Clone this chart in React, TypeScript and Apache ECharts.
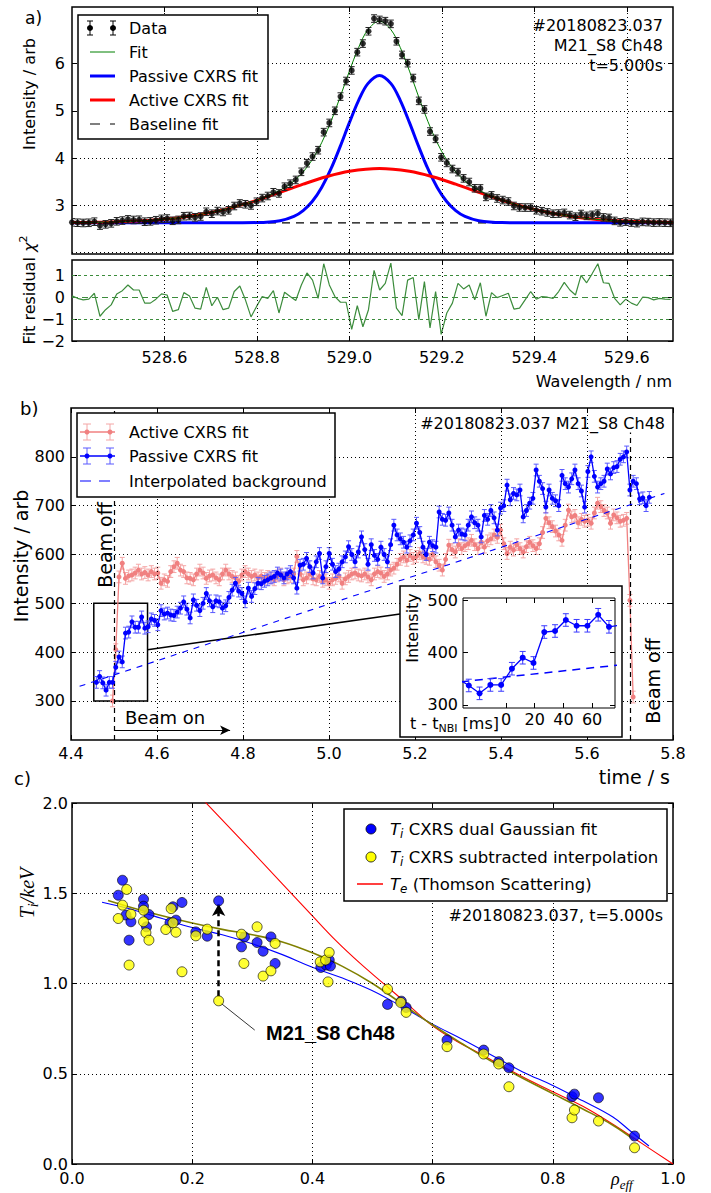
import React, { useEffect, useRef } from 'react';
import * as echarts from 'echarts';

const FONT = 'DejaVu Sans';
const SERIF = 'Liberation Serif';

// ================= Panel a : spectrum =================
const WL_START = 528.4;
const WL_STEP = 0.0121;
const SPECTRUM = [
  2.640, 2.632, 2.627, 2.631, 2.654, 2.572, 2.598, 2.619, 2.662, 2.678,
  2.703, 2.690, 2.695, 2.654, 2.661, 2.685, 2.714, 2.721, 2.673, 2.692,
  2.770, 2.774, 2.747, 2.764, 2.864, 2.823, 2.879, 2.860, 2.895, 2.986,
  3.040, 3.023, 2.998, 3.076, 3.154, 3.198, 3.277, 3.252, 3.395, 3.458,
  3.538, 3.710, 3.893, 4.033, 4.168, 4.550, 4.745, 5.002, 5.303, 5.633,
  5.857, 6.244, 6.425, 6.686, 6.955, 6.926, 6.900, 6.843, 6.474, 6.185,
  6.011, 5.696, 5.212, 5.031, 4.563, 4.408, 4.018, 3.899, 3.769, 3.704,
  3.571, 3.494, 3.361, 3.358, 3.179, 3.211, 3.146, 3.112, 3.081, 2.987,
  2.956, 2.953, 2.953, 2.896, 2.876, 2.850, 2.822, 2.826, 2.840, 2.794,
  2.760, 2.817, 2.777, 2.798, 2.823, 2.744, 2.733, 2.671, 2.641, 2.656,
  2.636, 2.624, 2.650, 2.645, 2.634, 2.638, 2.633, 2.630,
];
const SPECTRUM_ERR = 0.08;
const RESIDUAL = [
  0.06, -0.05, -0.12, -0.09, 0.18, -0.87, -0.57, -0.35, 0.15, 0.30,
  0.56, 0.33, 0.33, -0.27, -0.27, -0.09, 0.15, 0.10, -0.65, -0.57,
  0.21, 0.06, -0.50, -0.54, 0.45, -0.39, 0.00, -0.57, -0.50, 0.26,
  0.51, -0.12, -0.90, -0.42, 0.03, -0.05, 0.30, -0.72, 0.23, 0.03,
  -0.15, 0.56, 1.11, 0.78, -0.05, 1.53, 0.56, 0.03, -0.23, -0.23,
  -1.47, -0.39, -1.35, -0.57, 1.23, 0.33, 0.63, 1.56, -0.50, -0.84,
  0.78, 0.90, -1.02, 0.71, -1.40, 0.26, -1.70, -0.72, -0.27, 0.63,
  0.38, 0.56, -0.12, 0.66, -0.87, 0.21, -0.02, 0.08, 0.18, -0.54,
  -0.50, -0.12, 0.26, -0.09, 0.03, 0.00, -0.05, 0.26, 0.68, 0.33,
  0.10, 1.00, 0.66, 1.08, 1.53, 0.66, 0.63, -0.05, -0.35, -0.09,
  -0.27, -0.38, 0.00, -0.02, -0.12, -0.05, -0.09, -0.10,
];
const FIT_CURVE = [
  [528.40, 2.635], [528.45, 2.640], [528.50, 2.651], [528.55, 2.672], [528.60, 2.707],
  [528.65, 2.764], [528.70, 2.848], [528.75, 2.963], [528.80, 3.113], [528.85, 3.321],
  [528.88, 3.517], [528.90, 3.708], [528.92, 3.971], [528.94, 4.325], [528.96, 4.772],
  [528.98, 5.294], [529.00, 5.842], [529.02, 6.344], [529.04, 6.718], [529.065, 6.900],
  [529.09, 6.718], [529.11, 6.344], [529.13, 5.842], [529.15, 5.294], [529.17, 4.772],
  [529.19, 4.325], [529.21, 3.971], [529.23, 3.708], [529.25, 3.517], [529.28, 3.321],
  [529.33, 3.113], [529.38, 2.963], [529.43, 2.848], [529.48, 2.764], [529.53, 2.707],
  [529.58, 2.672], [529.63, 2.651], [529.70, 2.637],
];
const PASSIVE_CURVE = [
  [528.40, 2.630], [528.60, 2.630], [528.75, 2.631], [528.80, 2.635], [528.85, 2.676],
  [528.88, 2.767], [528.90, 2.890], [528.92, 3.087], [528.94, 3.379], [528.96, 3.770],
  [528.98, 4.243], [529.00, 4.751], [529.02, 5.223], [529.04, 5.577], [529.065, 5.750],
  [529.09, 5.577], [529.11, 5.223], [529.13, 4.751], [529.15, 4.243], [529.17, 3.770],
  [529.19, 3.379], [529.21, 3.087], [529.23, 2.890], [529.25, 2.767], [529.28, 2.676],
  [529.33, 2.635], [529.38, 2.631], [529.50, 2.630], [529.70, 2.630],
];
const ACTIVE_CURVE = [
  [528.40, 2.635], [528.45, 2.640], [528.50, 2.651], [528.55, 2.672], [528.60, 2.707],
  [528.65, 2.764], [528.70, 2.848], [528.75, 2.963], [528.80, 3.108], [528.85, 3.275],
  [528.90, 3.448], [528.95, 3.605], [529.00, 3.721], [529.065, 3.780], [529.13, 3.721],
  [529.18, 3.605], [529.23, 3.448], [529.28, 3.275], [529.33, 3.108], [529.38, 2.963],
  [529.43, 2.848], [529.48, 2.764], [529.53, 2.707], [529.58, 2.672], [529.63, 2.651],
  [529.70, 2.637],
];
const BASELINE = [[528.4, 2.63], [529.7, 2.63]];
const WL_TICKS = [528.6, 528.8, 529.0, 529.2, 529.4, 529.6];
const SPEC_Y_TICKS = [3, 4, 5, 6];
const SPEC_Y_GRID = [2, 3, 4, 5, 6];
const RES_Y_TICKS = [-2, -1, 0, 1];
const RES_Y_GRID = [-1, 0, 1];

// ================= Panel b : time traces =================
const T_START = 4.459;
const T_STEP = 0.00752;
const PASSIVE_TS = [
  338, 350, 337, 322, 338, 338, 369, 390, 380, 439,
  441, 462, 451, 451, 472, 449, 452, 468, 465, 456,
  485, 478, 480, 476, 475, 482, 490, 503, 488, 470,
  507, 496, 485, 500, 520, 505, 493, 505, 503, 490,
  495, 512, 527, 541, 525, 520, 503, 531, 514, 530,
  541, 540, 545, 548, 552, 555, 562, 558, 552, 560,
  565, 552, 531, 578, 580, 592, 575, 562, 585, 602,
  552, 575, 602, 580, 565, 570, 585, 595, 616, 600,
  585, 605, 636, 610, 580, 620, 598, 590, 615, 600,
  585, 620, 660, 640, 632, 625, 615, 628, 640, 664,
  645, 615, 600, 625, 618, 615, 687, 672, 670, 685,
  660, 636, 650, 642, 640, 660, 677, 665, 660, 636,
  680, 672, 690, 675, 650, 695, 700, 742, 712, 725,
  722, 732, 677, 690, 705, 715, 773, 750, 735, 697,
  732, 715, 710, 700, 762, 745, 738, 755, 773, 745,
  730, 697, 770, 800, 760, 738, 745, 750, 775, 765,
  778, 780, 795, 800, 810, 732, 750, 745, 714, 716,
  700, 717,
];
const ACTIVE_START_INDEX = 5;
const ACTIVE_TS = [
  300, 405, 554, 582, 551, 556, 558, 562, 568, 560,
  563, 558, 565, 560, 562, 541, 548, 545, 565, 575,
  582, 568, 565, 552, 551, 548, 560, 568, 562, 551,
  556, 558, 552, 548, 560, 568, 560, 555, 552, 545,
  558, 565, 560, 555, 558, 552, 556, 551, 555, 552,
  548, 556, 560, 548, 552, 555, 560, 596, 560, 548,
  552, 560, 550, 548, 555, 545, 548, 541, 548, 551,
  556, 541, 550, 555, 560, 562, 558, 556, 560, 554,
  548, 560, 565, 562, 555, 560, 568, 572, 580, 590,
  595, 588, 598, 592, 596, 602, 595, 592, 590, 600,
  585, 578, 568, 590, 619, 610, 605, 620, 612, 618,
  622, 629, 620, 612, 625, 615, 628, 632, 640, 635,
  650, 622, 602, 615, 609, 620, 612, 605, 616, 625,
  618, 612, 622, 645, 674, 665, 657, 648, 640, 629,
  660, 691, 677, 680, 665, 672, 668, 670, 664, 685,
  705, 698, 690, 685, 664, 681, 675, 668, 670, 674,
  506, 308,
];
const TS_ERR = 12;
const BG_LINE = [[4.42, 330], [5.78, 725]];
const BEAM_ON_T = 4.5;
const BEAM_OFF_T = 5.7;
const BEAM_OFF_TOP = 850;
const ZOOM_BOX = [[4.453, 300], [4.578, 500]];
const TIME_TICKS = [4.4, 4.6, 4.8, 5.0, 5.2, 5.4, 5.6, 5.8];
const TIME_GRID = [4.6, 4.8, 5.0, 5.2, 5.4, 5.6];
const INT_TICKS = [300, 400, 500, 600, 700, 800];
const INSET_X_TICKS = [0, 20, 40, 60];
const INSET_X_GRID = [-20, -10, 10, 20, 30, 40, 50, 60, 70];
const INSET_Y_TICKS = [300, 400, 500];

// ================= Panel c : profiles =================
const BLUE_RHO = [0.084, 0.077, 0.090, 0.098, 0.095, 0.119, 0.119, 0.128, 0.124, 0.163, 0.168, 0.173, 0.183, 0.206, 0.225, 0.244, 0.282, 0.287, 0.308, 0.318, 0.331, 0.338, 0.414, 0.423, 0.428, 0.430, 0.525, 0.548, 0.556, 0.624, 0.685, 0.710, 0.727, 0.832, 0.836, 0.876, 0.936];
const BLUE_TI = [1.572, 1.489, 1.379, 1.342, 1.240, 1.467, 1.428, 1.382, 1.314, 1.336, 1.425, 1.351, 1.449, 1.286, 1.262, 1.458, 1.203, 1.258, 1.227, 1.179, 1.258, 1.111, 1.089, 1.102, 1.130, 1.097, 0.884, 0.902, 0.867, 0.687, 0.631, 0.567, 0.533, 0.373, 0.387, 0.367, 0.155];
const YEL_RHO = [0.091, 0.084, 0.077, 0.098, 0.095, 0.119, 0.119, 0.123, 0.128, 0.156, 0.165, 0.168, 0.173, 0.183, 0.206, 0.225, 0.244, 0.282, 0.286, 0.308, 0.318, 0.331, 0.338, 0.413, 0.422, 0.428, 0.426, 0.525, 0.547, 0.556, 0.624, 0.685, 0.710, 0.727, 0.832, 0.836, 0.876, 0.936];
const YEL_TI = [1.521, 1.434, 1.360, 1.384, 1.102, 1.406, 1.342, 1.281, 1.240, 1.299, 1.415, 1.336, 1.284, 1.065, 1.264, 1.301, 0.904, 1.273, 1.111, 1.314, 1.041, 1.070, 1.222, 1.120, 1.130, 1.172, 1.009, 0.969, 0.895, 0.840, 0.650, 0.609, 0.554, 0.428, 0.256, 0.299, 0.238, 0.090];
const BLUE_FIT = [[0.05, 1.45], [0.1, 1.41], [0.15, 1.36], [0.2, 1.31], [0.25, 1.27], [0.3, 1.22], [0.35, 1.16], [0.4, 1.09], [0.45, 1.03], [0.5, 0.96], [0.55, 0.87], [0.6, 0.775], [0.65, 0.69], [0.7, 0.60], [0.75, 0.51], [0.8, 0.435], [0.85, 0.35], [0.9, 0.26], [0.93, 0.18], [0.96, 0.10]];
const OLIVE_FIT = [[0.06, 1.46], [0.1, 1.42], [0.15, 1.375], [0.2, 1.335], [0.25, 1.30], [0.3, 1.27], [0.35, 1.23], [0.4, 1.17], [0.45, 1.095], [0.5, 1.00], [0.55, 0.885], [0.6, 0.77], [0.65, 0.665], [0.7, 0.565], [0.75, 0.475], [0.8, 0.39], [0.85, 0.305], [0.9, 0.215], [0.935, 0.135]];
const TE_LINE = [[0.21, 2.046], [0.3, 1.73], [0.4, 1.375], [0.44, 1.235], [0.48, 1.11], [0.52, 0.995], [0.56, 0.88], [0.6, 0.765], [0.64, 0.68], [0.68, 0.61], [0.72, 0.535], [0.76, 0.465], [0.8, 0.40], [0.85, 0.32], [0.9, 0.22], [0.95, 0.11], [1.0, 0.0]];
const HIGHLIGHT_RHO = 0.244;
const HIGHLIGHT_FROM = 0.93;
const HIGHLIGHT_TO = 1.44;
const RHO_TICKS = [0, 0.2, 0.4, 0.6, 0.8, 1.0];
const RHO_GRID = [0.2, 0.4, 0.6, 0.8];
const TI_TICKS = [0, 0.5, 1.0, 1.5, 2.0];
const TI_GRID = [0.5, 1.0, 1.5];

// ================= helpers =================
const DOTTED = { color: '#000', width: 1, type: [1, 3] };
const f1 = (v: number) => v.toFixed(1);
const fInt = (v: number) => String(Math.round(v));
const fMinus = (v: number) => (v < 0 ? '\u2212' + Math.abs(Math.round(v)) : String(Math.round(v)));

function axis(kind: 'x' | 'y', gridIndex: number, min: number, max: number, ticks: number[], showLabel: boolean, fmt: any, opts: any = {}) {
  const position = kind === 'x' ? (opts.mirror ? 'top' : 'bottom') : (opts.mirror ? 'right' : 'left');
  return {
    type: 'value', gridIndex, min, max, position, z: opts.z ?? 0,
    axisLine: { show: false, onZero: false },
    splitLine: { show: false },
    axisTick: { show: true, inside: true, length: 5, customValues: ticks, lineStyle: { color: '#000', width: 1 } },
    axisLabel: {
      show: showLabel, customValues: ticks, formatter: fmt, color: '#000',
      fontSize: opts.size ?? 16, fontFamily: FONT, margin: opts.margin ?? 6,
      showMinLabel: true, showMaxLabel: true, hideOverlap: false,
    },
  };
}

function markLines(xi: number, yi: number, data: any[], lineStyle: any, z: number, extra: any = {}) {
  return {
    type: 'line', xAxisIndex: xi, yAxisIndex: yi, data: [], z, silent: true,
    markLine: {
      silent: true, symbol: ['none', 'none'], label: { show: false }, lineStyle, data, animation: false,
      emphasis: { disabled: true }, ...extra,
    },
  };
}

function errorBars(xi: number, yi: number, pts: number[][], err: number, color: string, cap: number, z: number) {
  return {
    type: 'custom', xAxisIndex: xi, yAxisIndex: yi, z, silent: true, clip: true,
    data: pts.map(([x, v]) => [x, v - err, v + err]),
    encode: { x: 0, y: [1, 2] },
    renderItem: (_p: any, api: any) => {
      const x = api.value(0);
      const lo = api.coord([x, api.value(1)]);
      const hi = api.coord([x, api.value(2)]);
      const st = { stroke: color, lineWidth: 1 };
      return {
        type: 'group',
        children: [
          { type: 'line', shape: { x1: lo[0], y1: lo[1], x2: hi[0], y2: hi[1] }, style: st },
          { type: 'line', shape: { x1: lo[0] - cap, y1: lo[1], x2: lo[0] + cap, y2: lo[1] }, style: st },
          { type: 'line', shape: { x1: hi[0] - cap, y1: hi[1], x2: hi[0] + cap, y2: hi[1] }, style: st },
        ],
      };
    },
  };
}

function mathRich(size: number, family = FONT) {
  const s = Math.round(size * 0.7);
  return {
    n: { fontSize: size, fontFamily: family, lineHeight: size + 6, fill: '#000' },
    it: { fontSize: size, fontFamily: family, fontStyle: 'italic', lineHeight: size + 6, fill: '#000' },
    sub: { fontSize: s, fontFamily: family, fontStyle: 'italic', lineHeight: s + 1, verticalAlign: 'bottom', fill: '#000' },
    subn: { fontSize: s, fontFamily: family, lineHeight: s + 1, verticalAlign: 'bottom', fill: '#000' },
    sup: { fontSize: s, fontFamily: family, lineHeight: s + 1, verticalAlign: 'top', fill: '#000' },
  };
}

function buildOption() {
  const G: any[] = [];
  const T = (x: number, y: number, text: string, o: any = {}) =>
    G.push({
      type: 'text', x, y, z: o.z ?? 100, rotation: o.rot ? Math.PI / 2 : 0, silent: true,
      style: {
        text, fill: '#000', fontSize: o.size ?? 16, fontFamily: o.font ?? FONT,
        fontWeight: o.weight ?? 'normal', fontStyle: o.style ?? 'normal',
        align: o.align ?? 'left', verticalAlign: 'middle', rich: o.rich,
      },
    });
  const L = (x1: number, y1: number, x2: number, y2: number, stroke: string, lw = 1, dash: any = null, z = 101) =>
    G.push({ type: 'line', z, silent: true, shape: { x1, y1, x2, y2 }, style: { stroke, lineWidth: lw, lineDash: dash } });
  const C = (cx: number, cy: number, r: number, fill: string, stroke: string | null = null, lw = 0.8, z = 102) =>
    G.push({ type: 'circle', z, silent: true, shape: { cx, cy, r }, style: { fill, stroke, lineWidth: lw } });
  const R = (x: number, y: number, w: number, h: number, z = 99) =>
    G.push({ type: 'rect', z, silent: true, shape: { x, y, width: w, height: h }, style: { fill: '#fff', stroke: '#000', lineWidth: 1.5 } });

  // ---- panel a texts & legend ----
  T(25, 18, 'a)', { size: 17 });
  T(29, 94, 'Intensity / arb', { rot: true, align: 'center', size: 16 });
  T(29, 290, '{n|Fit residual }{it|\u03c7}{sup|2}', { rot: true, align: 'center', rich: mathRich(16) });
  T(672, 381, 'Wavelength / nm', { align: 'right', size: 16 });
  T(663, 25, '#20180823.037', { align: 'right' });
  T(663, 45, 'M21_S8 Ch48', { align: 'right' });
  T(663, 65, 't=5.000s', { align: 'right' });
  R(78, 15, 190, 124);
  [90, 113].forEach((x) => {
    L(x, 21, x, 35, '#000');
    L(x - 3, 21, x + 3, 21, '#000');
    L(x - 3, 35, x + 3, 35, '#000');
    C(x, 28, 3, '#000');
  });
  T(129, 28, 'Data');
  L(90, 52, 115, 52, '#008000', 1);
  T(129, 52, 'Fit');
  L(90, 76, 115, 76, '#0000ff', 3);
  T(129, 76, 'Passive CXRS fit');
  L(90, 100, 115, 100, '#ff0000', 3);
  T(129, 100, 'Active CXRS fit');
  L(90, 124, 115, 124, '#000', 1.2, [10, 10]);
  T(129, 124, 'Baseline fit');

  // ---- panel b texts & legend ----
  T(20, 408, 'b)', { size: 18 });
  T(21, 556, 'Intensity / arb', { rot: true, align: 'center', size: 19 });
  T(670, 777, 'time / s', { align: 'right', size: 19 });
  T(665, 423, '#20180823.037 M21_S8 Ch48', { align: 'right' });
  T(105, 545, 'Beam off', { rot: true, align: 'center', size: 19 });
  T(653, 681, 'Beam off', { rot: true, align: 'center', size: 19 });
  T(125, 717, 'Beam on', { size: 18 });
  R(77, 413, 258, 84);
  ([[432, '#f08080', '#f4a6a6'], [456, '#0000ff', '#5a5aff']] as any[]).forEach(([y, c, ec]) => {
    L(80, y, 115, y, c, 1.3);
    [87, 110].forEach((x) => {
      L(x, y - 8, x, y + 8, ec);
      L(x - 4, y - 8, x + 4, y - 8, ec);
      L(x - 4, y + 8, x + 4, y + 8, ec);
      C(x, y, 2.5, c);
    });
  });
  L(80, 481, 115, 481, '#0000ff', 1.2, [11, 8]);
  T(129, 432, 'Active CXRS fit');
  T(129, 456, 'Passive CXRS fit');
  T(129, 481, 'Interpolated background');
  // inset frame
  R(400, 586, 222, 151, 50);
  T(412, 628, 'Intensity', { rot: true, align: 'center', size: 16, z: 70 });
  T(410, 723, '{n|t - t}{subn|NBI}{n| [ms]}', { rich: mathRich(16), z: 70 });

  // ---- panel c texts & legend ----
  T(14, 778, 'c)', { size: 18 });
  T(27, 893, '{it|T}{sub|i}{it|/keV}', { rot: true, align: 'center', rich: mathRich(20, SERIF) });
  T(611, 1179, '{it|\u03c1}{sub|eff}', { rich: mathRich(18, SERIF) });
  T(663, 915, '#20180823.037, t=5.000s', { align: 'right' });
  T(266, 1033, 'M21_S8 Ch48', { font: 'Liberation Sans', weight: 'bold', size: 20 });
  R(344, 809, 323, 92);
  C(371, 829, 5, '#0000ff', '#000');
  T(390, 829, '{it|T}{sub|i}{n| CXRS dual Gaussian fit}', { rich: mathRich(16.5) });
  C(371, 857, 5, '#ffff00', '#000');
  T(390, 857, '{it|T}{sub|i}{n| CXRS subtracted interpolation}', { rich: mathRich(16.5) });
  L(357, 884, 383, 884, '#ff0000', 1.5);
  T(390, 884, '{it|T}{sub|e}{n| (Thomson Scattering)}', { rich: mathRich(16.5) });

  // ---- data transforms ----
  const wl = SPECTRUM.map((_, i) => WL_START + i * WL_STEP);
  const specPts = SPECTRUM.map((v, i) => [wl[i], v]);
  const resPts = RESIDUAL.map((v, i) => [wl[i], v]);
  const tAt = (i: number) => T_START + i * T_STEP;
  const passivePts = PASSIVE_TS.map((v, i) => [tAt(i), v]);
  const activePts = ACTIVE_TS.map((v, i) => [tAt(i + ACTIVE_START_INDEX), v]);
  const toMs = (t: number) => (t - BEAM_ON_T) * 1000;
  const insetPts = passivePts.map(([t, v]) => [toMs(t), v]);
  const insetBg = BG_LINE.map(([t, v]) => [toMs(t), v]);

  const grid = [
    { left: 72, top: 7, width: 601, height: 247 },
    { left: 72, top: 260, width: 601, height: 81 },
    { left: 71, top: 408, width: 602, height: 332 },
    { left: 463, top: 598, width: 152, height: 110, z: 60, borderWidth: 1 },
    { left: 72, top: 803, width: 601, height: 361 },
  ].map((g: any) => ({
    show: true, borderColor: '#000', borderWidth: 1.5, backgroundColor: 'transparent',
    containLabel: false, outerBoundsMode: 'none', ...g,
  }));

  const xAxis = [
    axis('x', 0, 528.4, 529.7, WL_TICKS, false, f1),
    axis('x', 1, 528.4, 529.7, WL_TICKS, true, f1, { margin: 8 }),
    axis('x', 2, 4.4, 5.8, TIME_TICKS, true, f1, { margin: 5 }),
    axis('x', 3, -30, 76, INSET_X_TICKS, true, fInt, { margin: 3, z: 60 }),
    axis('x', 4, 0, 1, RHO_TICKS, true, f1, { margin: 6 }),
    axis('x', 0, 528.4, 529.7, WL_TICKS, false, f1, { mirror: true }),
    axis('x', 1, 528.4, 529.7, WL_TICKS, false, f1, { mirror: true }),
    axis('x', 2, 4.4, 5.8, TIME_TICKS, false, f1, { mirror: true }),
    axis('x', 3, -30, 76, INSET_X_TICKS, false, fInt, { mirror: true, z: 60 }),
    axis('x', 4, 0, 1, RHO_TICKS, false, f1, { mirror: true }),
  ];
  const yAxis = [
    axis('y', 0, 1.97, 7.2, SPEC_Y_TICKS, true, fInt, { margin: 7 }),
    axis('y', 1, -2, 1.7, RES_Y_TICKS, true, fMinus, { margin: 7 }),
    axis('y', 2, 220, 900, INT_TICKS, true, fInt, { margin: 6 }),
    axis('y', 3, 294, 504, INSET_Y_TICKS, true, fInt, { margin: 5, z: 60 }),
    axis('y', 4, 0, 2, TI_TICKS, true, f1, { margin: 4 }),
    axis('y', 0, 1.97, 7.2, SPEC_Y_TICKS, false, fInt, { mirror: true }),
    axis('y', 1, -2, 1.7, RES_Y_TICKS, false, fInt, { mirror: true }),
    axis('y', 2, 220, 900, INT_TICKS, false, fInt, { mirror: true }),
    axis('y', 3, 294, 504, INSET_Y_TICKS, false, fInt, { mirror: true, z: 60 }),
    axis('y', 4, 0, 2, TI_TICKS, false, f1, { mirror: true }),
  ];

  const line = (xi: number, yi: number, data: any[], color: string, width: number, z: number, extra: any = {}) => {
    const { lineStyle, ...rest } = extra;
    return {
      type: 'line', xAxisIndex: xi, yAxisIndex: yi, data, z, silent: true, showSymbol: false, symbol: 'none',
      lineStyle: { color, width, ...(lineStyle || {}) }, ...rest,
    };
  };

  const series: any[] = [
    // ---------- panel a ----------
    markLines(0, 0, [...WL_TICKS.map((v) => ({ xAxis: v })), ...SPEC_Y_GRID.map((v) => ({ yAxis: v }))], DOTTED, 1),
    line(0, 0, BASELINE, '#000', 1.2, 2, { lineStyle: { type: [8, 6] } }),
    line(0, 0, PASSIVE_CURVE, '#0000ff', 3, 3, { smooth: 0.35 }),
    line(0, 0, ACTIVE_CURVE, '#ff0000', 3, 4, { smooth: 0.35 }),
    line(0, 0, FIT_CURVE, '#008000', 1, 5, { smooth: 0.35 }),
    errorBars(0, 0, specPts, SPECTRUM_ERR, '#222', 3, 6),
    {
      type: 'scatter', xAxisIndex: 0, yAxisIndex: 0, data: specPts, z: 7, silent: true,
      symbol: 'circle', symbolSize: 6, itemStyle: { color: '#000' },
    },
    // residual
    markLines(1, 1, [
      ...WL_TICKS.map((v) => ({ xAxis: v, lineStyle: DOTTED })),
      ...RES_Y_GRID.map((v) => ({ yAxis: v, lineStyle: { color: '#3c8c3c', width: 1, type: v === 0 ? [6, 4] : [3, 3] } })),
    ], DOTTED, 1),
    line(1, 1, resPts, '#3c8c3c', 1.2, 3),

    // ---------- panel b ----------
    markLines(2, 2, [...TIME_GRID.map((v) => ({ xAxis: v })), ...INT_TICKS.map((v) => ({ yAxis: v }))], DOTTED, 1),
    errorBars(2, 2, activePts, TS_ERR, '#f4a6a6', 2.5, 2),
    {
      type: 'line', xAxisIndex: 2, yAxisIndex: 2, data: activePts, z: 3, silent: true,
      symbol: 'circle', symbolSize: 5, showSymbol: true,
      lineStyle: { color: '#f08080', width: 1.3 }, itemStyle: { color: '#f08080' },
    },
    errorBars(2, 2, passivePts, TS_ERR, '#5a5aff', 2.5, 4),
    {
      type: 'line', xAxisIndex: 2, yAxisIndex: 2, data: passivePts, z: 5, silent: true,
      symbol: 'circle', symbolSize: 5, showSymbol: true,
      lineStyle: { color: '#0000ff', width: 1.3 }, itemStyle: { color: '#0000ff' },
    },
    line(2, 2, BG_LINE, '#0000ff', 1.1, 6, { lineStyle: { type: [6, 6] } }),
    markLines(2, 2, [
      { xAxis: BEAM_ON_T },
      [{ coord: [BEAM_OFF_T, 220] }, { coord: [BEAM_OFF_T, BEAM_OFF_TOP] }],
    ], { color: '#000', width: 1.2, type: [5, 4] }, 7),
    markLines(2, 2, [[{ coord: [BEAM_ON_T, 240] }, { coord: [4.77, 240] }]], { color: '#000', width: 1.2, type: 'solid' }, 7,
      { symbol: ['none', 'arrow'], symbolSize: [7, 10] }),
    markLines(2, 2, [[{ coord: [ZOOM_BOX[1][0], 405] }, { x: 400, y: 614 }]], { color: '#000', width: 1.5, type: 'solid' }, 7),
    {
      type: 'line', xAxisIndex: 2, yAxisIndex: 2, data: [], z: 8, silent: true,
      markArea: {
        silent: true, animation: false,
        itemStyle: { color: 'rgba(0,0,0,0)', borderColor: '#000', borderWidth: 1.5 },
        data: [[{ coord: ZOOM_BOX[0] }, { coord: ZOOM_BOX[1] }]],
      },
    },
    // inset
    markLines(3, 3, [
      ...INSET_X_GRID.map((v) => ({ xAxis: v, lineStyle: { color: '#555', width: 1, type: [1, 2] } })),
      { xAxis: 0, lineStyle: { color: '#000', width: 1.2, type: [4, 3] } },
    ], DOTTED, 61),
    line(3, 3, insetBg, '#0000ff', 1.5, 62, { lineStyle: { type: [8, 6] } }),
    errorBars(3, 3, insetPts, TS_ERR, '#3a3aff', 3, 63),
    {
      type: 'line', xAxisIndex: 3, yAxisIndex: 3, data: insetPts, z: 64, silent: true,
      symbol: 'circle', symbolSize: 6, showSymbol: true,
      lineStyle: { color: '#0000ff', width: 1.3 }, itemStyle: { color: '#0000ff' },
    },

    // ---------- panel c ----------
    markLines(4, 4, [...RHO_GRID.map((v) => ({ xAxis: v })), ...TI_GRID.map((v) => ({ yAxis: v }))], DOTTED, 1),
    line(4, 4, TE_LINE, '#ff0000', 1.1, 2, { smooth: 0.4 }),
    line(4, 4, BLUE_FIT, '#0000ff', 1.1, 3, { smooth: 0.4 }),
    line(4, 4, OLIVE_FIT, '#808000', 1.6, 3, { smooth: 0.4 }),
    {
      type: 'scatter', xAxisIndex: 4, yAxisIndex: 4, z: 5, silent: true,
      data: BLUE_RHO.map((r, i) => [r, BLUE_TI[i]]), symbol: 'circle', symbolSize: 10,
      itemStyle: { color: '#0000ff', borderColor: '#000', borderWidth: 0.8 },
    },
    {
      type: 'scatter', xAxisIndex: 4, yAxisIndex: 4, z: 6, silent: true,
      data: YEL_RHO.map((r, i) => [r, YEL_TI[i]]), symbol: 'circle', symbolSize: 10,
      itemStyle: { color: '#ffff00', borderColor: '#000', borderWidth: 0.8 },
    },
    markLines(4, 4, [[{ coord: [HIGHLIGHT_RHO, HIGHLIGHT_FROM] }, { coord: [HIGHLIGHT_RHO, HIGHLIGHT_TO] }]],
      { color: '#000', width: 2.5, type: [6, 4] }, 7, { symbol: ['none', 'arrow'], symbolSize: [10, 12] }),
    markLines(4, 4, [[{ coord: [0.247, 0.893] }, { coord: [0.304, 0.742] }]], { color: '#000', width: 0.8, type: 'solid' }, 7),
  ];

  return {
    animation: false,
    backgroundColor: '#fff',
    textStyle: { fontFamily: FONT, color: '#000' },
    grid, xAxis, yAxis, series,
    graphic: { elements: G },
  };
}

export default function App() {
  const ref = useRef<HTMLDivElement>(null);
  useEffect(() => {
    if (!ref.current) return;
    const chart = echarts.init(ref.current, null, { renderer: 'svg' });
    chart.setOption(buildOption() as any);
    return () => chart.dispose();
  }, []);
  return <div ref={ref} style={{ position: 'absolute', left: 0, top: 0, width: 711, height: 1193, background: '#fff' }} />;
}
